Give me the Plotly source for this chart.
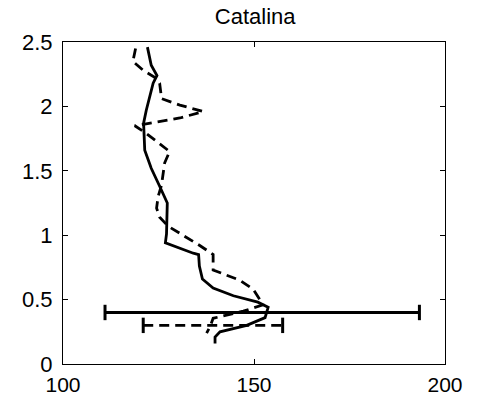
import plotly.graph_objects as go

# Solid profile (top to bottom)
solid_x = [122.1, 122.5, 123.1, 124.6, 123.6, 121.8, 121.1, 121.4, 123.1, 125.3, 127.3, 127.1, 126.8,
           134.1, 135.5, 135.7, 136.5, 139.3, 144.6, 151.0, 153.7, 152.9, 148.1, 141.1, 139.8, 139.8]
solid_y = [2.46, 2.40, 2.32, 2.24, 2.18, 1.97, 1.87, 1.66, 1.52, 1.38, 1.25, 1.01, 0.94,
           0.86, 0.85, 0.76, 0.66, 0.59, 0.53, 0.48, 0.44, 0.36, 0.30, 0.25, 0.21, 0.16]

# Dashed profile (top to bottom)
dash_x = [119.0, 118.3, 121.0, 124.3, 125.3, 125.8, 130.6, 136.7, 130.6, 118.8, 121.8, 125.3, 127.9,
          126.6, 126.2, 125.8, 124.9, 124.5, 125.3, 127.5, 135.8, 139.3, 139.3, 146.3, 149.8, 152.4,
          147.2, 139.3, 138.5, 137.6]
dash_y = [2.45, 2.35, 2.28, 2.22, 2.18, 2.06, 2.01, 1.96, 1.91, 1.85, 1.79, 1.71, 1.65,
          1.56, 1.45, 1.39, 1.30, 1.21, 1.14, 1.07, 0.92, 0.85, 0.73, 0.65, 0.58, 0.46,
          0.41, 0.355, 0.29, 0.24]

# Horizontal error bars: centre, half-width, depth
solid_err_center, solid_err_half, solid_err_y = 152.15, 41.15, 0.40
dash_err_center, dash_err_half, dash_err_y = 139.25, 18.25, 0.30

DASH = "10px,6px"
FONT = "Liberation Sans, Arial"
fig = go.Figure()
fig.add_trace(go.Scatter(x=solid_x, y=solid_y, mode="lines",
                         line=dict(color="black", width=2.8)))
fig.add_trace(go.Scatter(x=dash_x, y=dash_y, mode="lines",
                         line=dict(color="black", width=2.8, dash=DASH)))
fig.add_trace(go.Scatter(
    x=[solid_err_center - solid_err_half, solid_err_center + solid_err_half],
    y=[solid_err_y, solid_err_y], mode="lines+markers",
    line=dict(color="black", width=2.8),
    marker=dict(symbol="line-ns", size=11, line=dict(color="black", width=3))))
fig.add_trace(go.Scatter(
    x=[dash_err_center - dash_err_half, dash_err_center + dash_err_half],
    y=[dash_err_y, dash_err_y], mode="lines+markers",
    line=dict(color="black", width=2.8, dash=DASH),
    marker=dict(symbol="line-ns", size=11, line=dict(color="black", width=3))))

axis_common = dict(showgrid=False, zeroline=False, showline=True, linecolor="black", linewidth=1,
                   mirror="ticks", ticks="inside", ticklen=5, tickcolor="black", automargin=False)
fig.update_layout(
    width=483, height=398, showlegend=False,
    paper_bgcolor="white", plot_bgcolor="white",
    margin=dict(l=63, r=38, t=42, b=34, autoexpand=False),
    title=dict(text="Catalina", x=243 / 483, xref="paper", xanchor="center",
               y=1 - 16 / 398, yanchor="middle", automargin=False,
               font=dict(family=FONT, size=22, color="black")),
    xaxis=dict(range=[100, 200], tickvals=[100, 150, 200], ticktext=["100", "150", "200"],
               ticklabelstandoff=2, tickfont=dict(family=FONT, size=21, color="black"),
               **axis_common),
    yaxis=dict(range=[0, 2.5], tickvals=[0, 0.5, 1, 1.5, 2, 2.5],
               ticktext=["0", "0.5", "1", "1.5", "2", "2.5"], ticklabelstandoff=5,
               tickfont=dict(family=FONT, size=22, color="black"), **axis_common),
)
fig.write_html("out.html")
